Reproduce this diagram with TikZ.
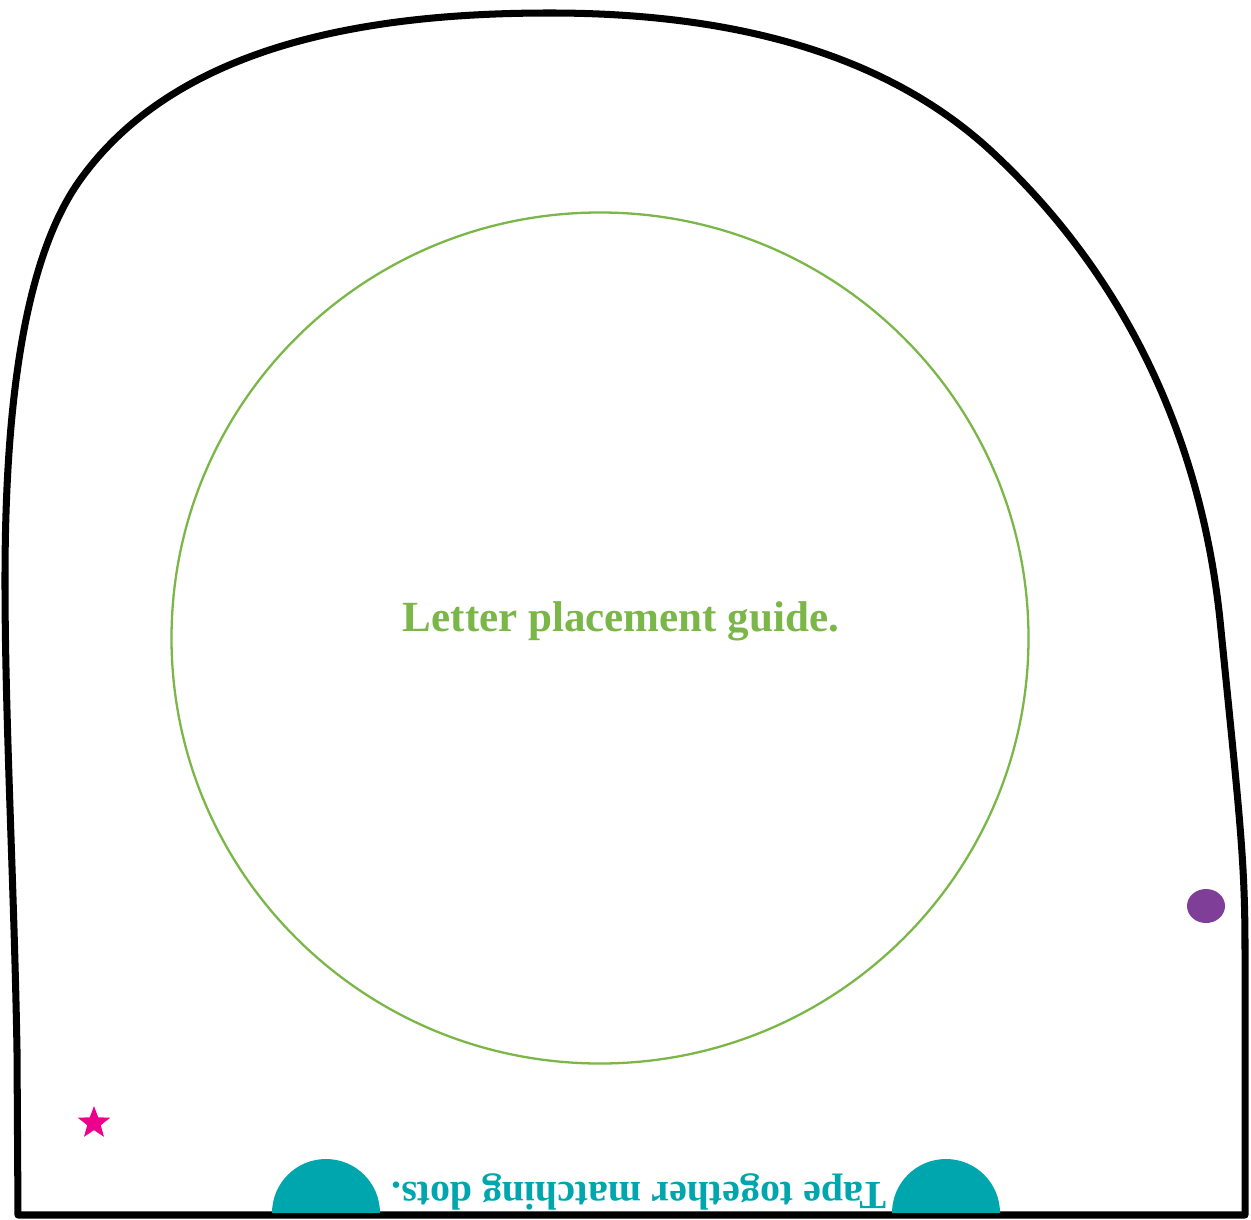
\documentclass[tikz,border=0pt]{standalone}
\usepackage{fontspec}
\setmainfont{Liberation Serif}
\usetikzlibrary{shapes.geometric}
\definecolor{guidegreen}{HTML}{7AB648}
\definecolor{tapeteal}{HTML}{00A6AE}
\definecolor{starpink}{HTML}{EC008C}
\definecolor{dotpurple}{HTML}{7F3F98}
\begin{document}
\begin{tikzpicture}[x=0.02cm,y=-0.02cm,line cap=round,line join=round,
  outline/.style={line width=4pt},
  guide/.style={guidegreen,line width=1.3pt},
  tapedot/.style={fill=tapeteal}]
  \useasboundingbox (0,0) rectangle (1251,1220);

  % cut line
  \draw[outline] (18,1215) -- (17,1050)
    .. controls (14,880) and (5,720) .. (5,580)
    .. controls (5,380) and (30,250) .. (80,180)
    .. controls (180,40) and (380,13) .. (550,13)
    .. controls (700,13) and (870,40) .. (990,150)
    .. controls (1120,270) and (1200,430) .. (1220,620)
    .. controls (1240,820) and (1245,860) .. (1245,950)
    -- (1245,1215) -- cycle;

  % letter guide
  \draw[guide] (600,638) ellipse [x radius=428.5, y radius=425.5];
  \node[guidegreen,font=\fontsize{24.5}{28}\selectfont\bfseries] (guide) at (621,621) {Letter placement guide.};

  % tape dots
  \fill[tapedot] (272,1213) arc[start angle=180,end angle=360,radius=54] -- cycle;
  \fill[tapedot] (892,1213) arc[start angle=180,end angle=360,radius=54] -- cycle;
  \node[tapeteal,rotate=180,inner sep=0pt,font=\fontsize{22.7}{26}\selectfont\bfseries] (tape) at (639,1192) {Tape together matching dots.};

  \node[star,star points=5,star point ratio=2.4,fill=starpink,minimum size=34*0.02cm,inner sep=0pt] (star) at (94,1123) {};
  \fill[dotpurple] (1206,906) ellipse [x radius=19, y radius=17];
\end{tikzpicture}
\end{document}
